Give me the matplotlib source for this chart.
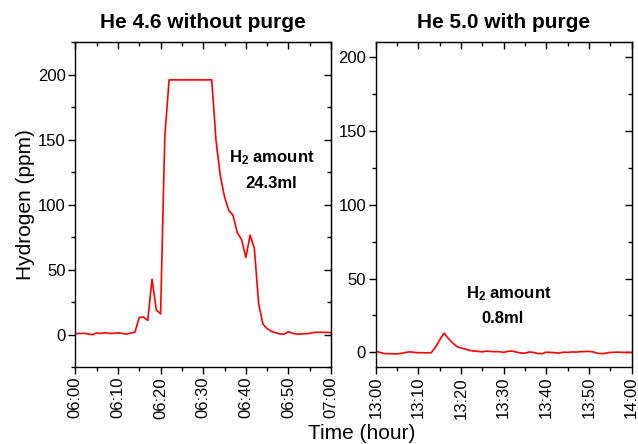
import matplotlib
matplotlib.use("Agg")
import matplotlib.pyplot as plt
from matplotlib.ticker import MultipleLocator

plt.rcParams['font.family'] = ['Liberation Sans', 'DejaVu Sans']
plt.rcParams['mathtext.fontset'] = 'custom'
plt.rcParams['mathtext.rm'] = 'Liberation Sans'
plt.rcParams['mathtext.bf'] = 'Liberation Sans:bold'

# minutes after the start hour
minutes = list(range(0, 61))

left_values = [0.8, 1.0, 1.0, 0.6, 0.0, 1.3, 1.0, 1.5, 1.0, 1.0,
               1.4, 1.0, 0.5, 1.2, 2.0, 13.3, 13.5, 11.0, 42.7, 19.0,
               16.0, 153, 196, 196, 196, 196, 196, 196, 196, 196,
               196, 196, 196, 149.5, 122.6, 106, 95.6, 91.8, 78.4, 73.2,
               59.4, 76.6, 66.3, 24.0, 8.2, 4.6, 2.6, 1.5, 0.5, 0.5,
               2.3, 1.0, 0.5, 0.5, 0.8, 1.0, 1.8, 1.8, 1.8, 1.8,
               1.5]

right_values = [0.7, 0.0, -0.8, -0.8, -1.0, -1.0, -0.6, 0.0, 0.4, 0.0,
                -0.2, -0.2, -0.3, -0.2, 3.5, 8.5, 13.0, 9.5, 6.5, 4.0,
                3.0, 2.3, 1.3, 1.0, 0.7, 0.4, 0.9, 0.6, 0.5, 0.5,
                0.0, 0.8, 0.9, 0.2, -0.4, -0.5, 0.3, 0.0, -0.7, -0.9,
                0.2, 0.0, -0.2, -0.5, 0.2, 0.0, 0.3, 0.2, 0.5, 0.6,
                0.7, 0.3, -0.6, -0.9, -0.5, 0.0, 0.1, 0.2, 0.0, 0.0,
                0.0]

tick_minutes = [0, 10, 20, 30, 40, 50, 60]
left_ticklabels = ["06:00", "06:10", "06:20", "06:30", "06:40", "06:50", "07:00"]
right_ticklabels = ["13:00", "13:10", "13:20", "13:30", "13:40", "13:50", "14:00"]

titles = ["He 4.6 without purge", "He 5.0 with purge"]
amounts = ["24.3ml", "0.8ml"]


def style_axes(ax, ylim, ticklabels):
    ax.set_xlim(0, 60)
    ax.set_ylim(*ylim)
    ax.set_xticks(tick_minutes)
    ax.set_xticklabels(ticklabels, rotation=90)
    ax.xaxis.set_minor_locator(MultipleLocator(5))
    ax.yaxis.set_major_locator(MultipleLocator(50))
    ax.yaxis.set_minor_locator(MultipleLocator(25))
    ax.tick_params(which='major', direction='out', length=5, width=1,
                   labelsize=12, pad=2)
    ax.tick_params(which='minor', direction='out', length=3, width=1)
    for sp in ax.spines.values():
        sp.set_linewidth(1.0)
    # mirrored ticks on top / right pointing inward
    top = ax.secondary_xaxis('top')
    top.set_xticks(tick_minutes)
    top.xaxis.set_minor_locator(MultipleLocator(5))
    top.tick_params(which='major', direction='in', length=5, width=1, labeltop=False)
    top.tick_params(which='minor', direction='in', length=3, width=1)
    right = ax.secondary_yaxis('right')
    right.yaxis.set_major_locator(MultipleLocator(50))
    right.yaxis.set_minor_locator(MultipleLocator(25))
    right.tick_params(which='major', direction='in', length=5, width=1, labelright=False)
    right.tick_params(which='minor', direction='in', length=3, width=1)


fig = plt.figure(figsize=(6.38, 4.44), dpi=100)
ax1 = fig.add_axes([0.118, 0.173, 0.401, 0.732])
ax2 = fig.add_axes([0.589, 0.173, 0.401, 0.732])

ax1.plot(minutes, left_values, color='red', linewidth=1.2)
ax2.plot(minutes, right_values, color='red', linewidth=1.2)

style_axes(ax1, (-25, 225), left_ticklabels)
style_axes(ax2, (-10, 210), right_ticklabels)

ax1.set_title(titles[0], fontsize=15, fontweight='bold', pad=10)
ax2.set_title(titles[1], fontsize=15, fontweight='bold', pad=10)

ax1.set_ylabel("Hydrogen (ppm)", fontsize=15, labelpad=2)
fig.text(0.567, 0.003, "Time (hour)", fontsize=15, ha='center', va='bottom')

ax1.text(46, 136, r"$\mathbf{H_2}$ amount", fontsize=12, fontweight='bold',
         ha='center', va='center')
ax1.text(46, 116, amounts[0], fontsize=12, fontweight='bold',
         ha='center', va='center')
ax2.text(31.2, 40, r"$\mathbf{H_2}$ amount", fontsize=12, fontweight='bold',
         ha='center', va='center')
ax2.text(29.7, 22.8, amounts[1], fontsize=12, fontweight='bold',
         ha='center', va='center')

fig.savefig("out.png", dpi=100)
